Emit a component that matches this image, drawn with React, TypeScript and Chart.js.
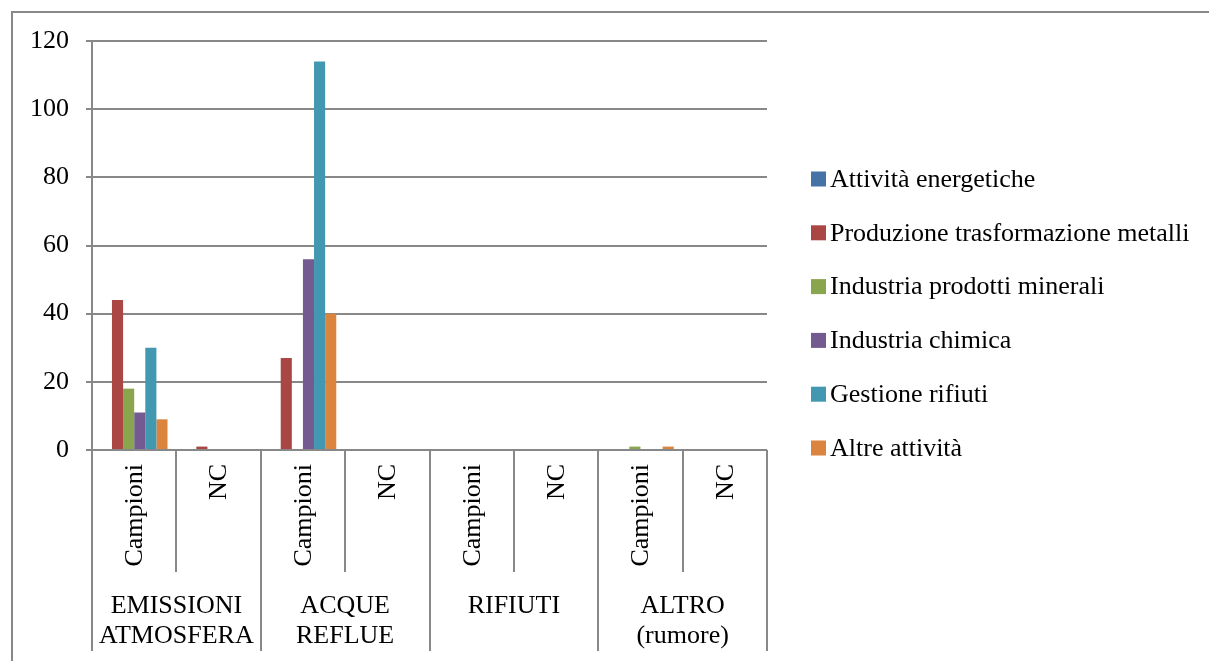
import { useEffect, useRef } from 'react';
import { Chart, registerables } from 'chart.js';

Chart.register(...registerables);

const groupLabels: string[][] = [
  ['EMISSIONI', 'ATMOSFERA'],
  ['ACQUE', 'REFLUE'],
  ['RIFIUTI'],
  ['ALTRO', '(rumore)'],
];
const subLabels = ['Campioni', 'NC'];
const categories = groupLabels.flatMap((g) => subLabels.map((s) => `${g.join(' ')} - ${s}`));

const seriesNames = [
  'Attività energetiche',
  'Produzione trasformazione metalli',
  'Industria prodotti minerali',
  'Industria chimica',
  'Gestione rifiuti',
  'Altre attività',
];
const attivitaEnergetiche = [0, 0, 0, 0, 0, 0, 0, 0];
const produzioneMetalli = [44, 1, 27, 0, 0, 0, 0, 0];
const prodottiMinerali = [18, 0, 0, 0, 0, 0, 1, 0];
const industriaChimica = [11, 0, 56, 0, 0, 0, 0, 0];
const gestioneRifiuti = [30, 0, 114, 0, 0, 0, 0, 0];
const altreAttivita = [9, 0, 40, 0, 0, 0, 1, 0];
const seriesValues = [
  attivitaEnergetiche,
  produzioneMetalli,
  prodottiMinerali,
  industriaChimica,
  gestioneRifiuti,
  altreAttivita,
];
const seriesColors = ['#4573A8', '#AA4643', '#89A54E', '#735A91', '#4298B1', '#DB843D'];

const yMin = 0;
const yMax = 120;
const yStep = 20;

const FONT = '"Liberation Serif", "Times New Roman", serif';
const GRID = '#888888';
const FSIZE = 26;

const customPlugin = {
  id: 'excelAxes',
  afterDraw(chart: any) {
    const { ctx, chartArea, scales } = chart;
    const x = scales.x;
    const n = categories.length;
    const slot = x.getPixelForValue(1) - x.getPixelForValue(0);
    ctx.save();
    ctx.strokeStyle = GRID;
    ctx.lineWidth = 2;
    // outer frame
    ctx.beginPath();
    ctx.moveTo(12, 700);
    ctx.lineTo(12, 12);
    ctx.lineTo(1300, 12);
    ctx.stroke();
    // category separators
    for (let i = 0; i <= n; i++) {
      const px = Math.round(x.getPixelForValue(i) - slot / 2);
      const bottom = i % 2 === 0 ? 651 : 572;
      ctx.beginPath();
      ctx.moveTo(px, chartArea.bottom);
      ctx.lineTo(px, bottom);
      ctx.stroke();
    }
    ctx.fillStyle = '#000';
    ctx.font = `${FSIZE}px ${FONT}`;
    // sub labels rotated
    for (let i = 0; i < n; i++) {
      const cx = x.getPixelForValue(i) + 1;
      ctx.save();
      ctx.translate(cx, chartArea.bottom + 14);
      ctx.rotate(-Math.PI / 2);
      ctx.textAlign = 'right';
      ctx.textBaseline = 'middle';
      ctx.fillText(subLabels[i % 2], 0, 0);
      ctx.restore();
    }
    // group labels
    ctx.textAlign = 'center';
    ctx.textBaseline = 'middle';
    groupLabels.forEach((lines, g) => {
      const cx = (x.getPixelForValue(g * 2) + x.getPixelForValue(g * 2 + 1)) / 2;
      lines.forEach((line, li) => {
        ctx.fillText(line, cx, 606 + li * 30);
      });
    });
    // legend
    ctx.textAlign = 'left';
    seriesNames.forEach((name, i) => {
      const y = 179 + i * 53.8;
      ctx.fillStyle = seriesColors[i];
      ctx.fillRect(811, y - 7.5, 15, 15);
      ctx.fillStyle = '#000';
      ctx.fillText(name, 830, y + 1);
    });
    ctx.restore();
  },
};

export default function App() {
  const ref = useRef<HTMLCanvasElement>(null);
  useEffect(() => {
    if (!ref.current) return;
    const chart = new Chart(ref.current, {
      type: 'bar',
      data: {
        labels: categories,
        datasets: seriesNames.map((name, i) => ({
          label: name,
          data: seriesValues[i],
          backgroundColor: seriesColors[i],
          borderWidth: 0,
          categoryPercentage: 0.79,
          barPercentage: 1,
        })),
      },
      options: {
        responsive: false,
        animation: false,
        layout: { padding: { top: 41, right: 442, bottom: 211, left: 0 } },
        plugins: { legend: { display: false }, tooltip: { enabled: false } },
        scales: {
          x: { display: false },
          y: {
            min: yMin,
            max: yMax,
            ticks: {
              stepSize: yStep,
              color: '#000',
              padding: 17,
              font: { family: FONT, size: FSIZE },
            },
            grid: {
              color: GRID,
              lineWidth: 2,
              tickLength: 6,
              tickColor: GRID,
            },
            border: { display: true, color: GRID, width: 2 },
            afterFit(axis: any) {
              axis.width = 92;
            },
          },
        },
      },
      plugins: [customPlugin],
    });
    return () => chart.destroy();
  }, []);
  return (
    <div style={{ position: 'absolute', left: 0, top: 0, width: 1209, height: 661, background: '#fff' }}>
      <canvas ref={ref} width={1209} height={661} style={{ display: 'block' }} />
    </div>
  );
}
